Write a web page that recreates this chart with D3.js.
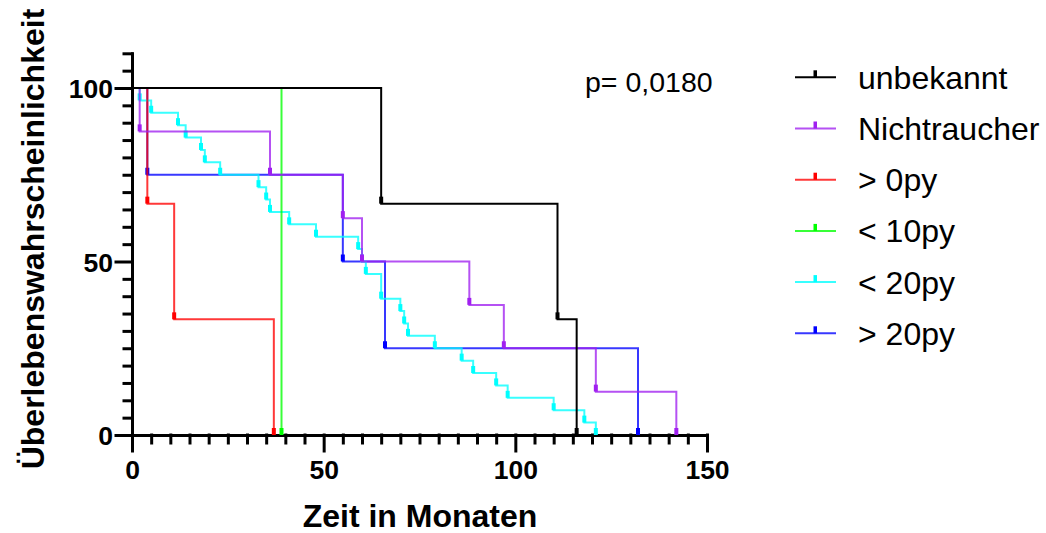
<!DOCTYPE html>
<html>
<head>
<meta charset="utf-8">
<script src="https://cdn.jsdelivr.net/npm/d3@7/dist/d3.min.js"></script>
<style>
  html, body { margin: 0; padding: 0; background: #fff; }
  svg { display: block; font-family: "Liberation Sans", Arial, sans-serif; }
</style>
</head>
<body>
<svg id="chart" width="1046" height="533"></svg>
<script>
// Kaplan-Meier survival by smoking status: event times (months) and survival (%) after each step
const seriesNames = ["unbekannt", "Nichtraucher", "> 0py", "< 10py", "< 20py", "> 20py"];
const seriesColors = ["#000000", "#a020f0", "#ff0000", "#00ff00", "#00ffff", "#0000ff"];

const unbekanntTimes = [65, 111, 116];
const unbekanntSurv  = [66.67, 33.33, 0];

const nichtraucherTimes = [2, 36, 55, 60, 88, 97, 121, 142];
const nichtraucherSurv  = [87.5, 75, 62.5, 50, 37.5, 25, 12.5, 0];

const py0Times = [4, 11, 37];
const py0Surv  = [66.67, 33.33, 0];

const py10Times = [39];
const py10Surv  = [0];

const py20LessTimes = [2, 5, 12, 14, 18, 19, 23, 33, 35, 36, 41, 48, 59, 60, 61, 65, 70, 71, 72, 79, 86, 89, 95, 98, 110, 118, 121];
const py20LessSurv  = [96.43, 92.86, 89.29, 85.71, 82.14, 78.57, 75, 71.43, 67.86, 64.29, 60.71, 57.14, 53.57, 50, 46.43, 39.29, 35.71, 32.14, 28.57, 25, 21.43, 17.86, 14.29, 10.71, 7.14, 3.57, 0];

const py20MoreTimes = [4, 55, 66, 132];
const py20MoreSurv  = [75, 50, 25, 0];

const xMajorTicks = [0, 50, 100, 150];
const yMajorTicks = [0, 50, 100];
const pValueText = "p= 0,0180";
const xTitle = "Zeit in Monaten";
const yTitle = "Überlebenswahrscheinlichkeit";

const seriesTimes = [unbekanntTimes, nichtraucherTimes, py0Times, py10Times, py20LessTimes, py20MoreTimes];
const seriesSurv  = [unbekanntSurv, nichtraucherSurv, py0Surv, py10Surv, py20LessSurv, py20MoreSurv];

const svg = d3.select("#chart");
const x = d3.scaleLinear().domain([0, 150]).range([132, 707]);
const y = d3.scaleLinear().domain([0, 110]).range([435, 53.3]);

const axisStroke = 3;
const minorLen = 8, majorLen = 16;

// minor ticks every 5
const xMinor = d3.range(0, 151, 5).filter(v => v % 50 !== 0);
const yMinor = d3.range(0, 111, 5).filter(v => v % 50 !== 0);

const gAxes = svg.append("g");

function styleAxis(g) {
  g.selectAll("path, line").attr("stroke", "#000").attr("stroke-width", axisStroke).attr("stroke-linecap", "square");
}

// x axis
gAxes.append("g")
  .attr("transform", "translate(0,435)")
  .call(d3.axisBottom(x).tickValues(xMinor).tickSize(minorLen).tickSizeOuter(0).tickFormat(""))
  .call(styleAxis);
const gx = gAxes.append("g")
  .attr("transform", "translate(0,435)")
  .call(d3.axisBottom(x).tickValues(xMajorTicks).tickSize(majorLen).tickSizeOuter(0).tickFormat(d3.format("d")))
  .call(styleAxis);
gx.select(".domain").remove();
gx.selectAll("text")
  .attr("dy", null)
  .attr("y", 44)
  .attr("fill", "#000")
  .style("font-size", "26.5px").style("font-weight", "bold")
  .style("font-family", "'Liberation Sans', Arial, sans-serif");

// y axis
gAxes.append("g")
  .attr("transform", "translate(132,0)")
  .call(d3.axisLeft(y).tickValues(yMinor).tickSize(minorLen).tickSizeOuter(0).tickFormat(""))
  .call(styleAxis);
const gy = gAxes.append("g")
  .attr("transform", "translate(132,0)")
  .call(d3.axisLeft(y).tickValues(yMajorTicks).tickSize(majorLen).tickSizeOuter(0).tickFormat(d3.format("d")))
  .call(styleAxis);
gy.select(".domain").remove();
gy.selectAll("text")
  .attr("x", -19)
  .attr("dy", "0.37em")
  .attr("fill", "#000")
  .style("font-size", "26.5px").style("font-weight", "bold")
  .style("font-family", "'Liberation Sans', Arial, sans-serif");

// axis titles
svg.append("text")
  .attr("x", 420).attr("y", 527)
  .attr("text-anchor", "middle")
  .style("font-size", "32px").style("font-weight", "bold")
  .text(xTitle);
svg.append("text")
  .attr("transform", "translate(44,239) rotate(-90)")
  .attr("text-anchor", "middle")
  .style("font-size", "32px").style("font-weight", "bold")
  .text(yTitle);

// survival curves, drawn so the first legend entry ends up on top
const line = d3.line().x(d => x(d[0])).y(d => y(d[1])).curve(d3.curveStepAfter);
const gCurves = svg.append("g");
const order = d3.range(seriesNames.length).reverse();
order.forEach(i => {
  const pts = [[0, 100]].concat(seriesTimes[i].map((t, k) => [t, seriesSurv[i][k]]));
  const g = gCurves.append("g");
  g.append("path")
    .attr("d", line(pts))
    .attr("fill", "none")
    .attr("stroke", seriesColors[i])
    .attr("stroke-width", 2)
    .attr("stroke-opacity", i === 0 ? 1 : 0.78);
  g.selectAll("rect")
    .data(seriesTimes[i].map((t, k) => [t, seriesSurv[i][k]]))
    .join("rect")
    .attr("x", d => x(d[0]) - 2)
    .attr("y", d => y(d[1]) - 7)
    .attr("width", 4)
    .attr("height", 7)
    .attr("fill", seriesColors[i]);
});

// p-value
svg.append("text")
  .attr("x", 585).attr("y", 92)
  .style("font-size", "28.5px")
  .text(pValueText);

// legend
const legend = svg.append("g");
seriesNames.forEach((name, i) => {
  const ly = 77.3 + 51.2 * i;
  legend.append("line")
    .attr("x1", 795).attr("x2", 836).attr("y1", ly).attr("y2", ly)
    .attr("stroke", seriesColors[i]).attr("stroke-width", 2)
    .attr("stroke-opacity", i === 0 ? 1 : 0.78);
  legend.append("rect")
    .attr("x", 813.5).attr("y", ly - 7).attr("width", 3.5).attr("height", 7)
    .attr("fill", seriesColors[i]);
  legend.append("text")
    .attr("x", 858).attr("y", ly + 11.5)
    .style("font-size", "32px")
    .text(name);
});
</script>
</body>
</html>
